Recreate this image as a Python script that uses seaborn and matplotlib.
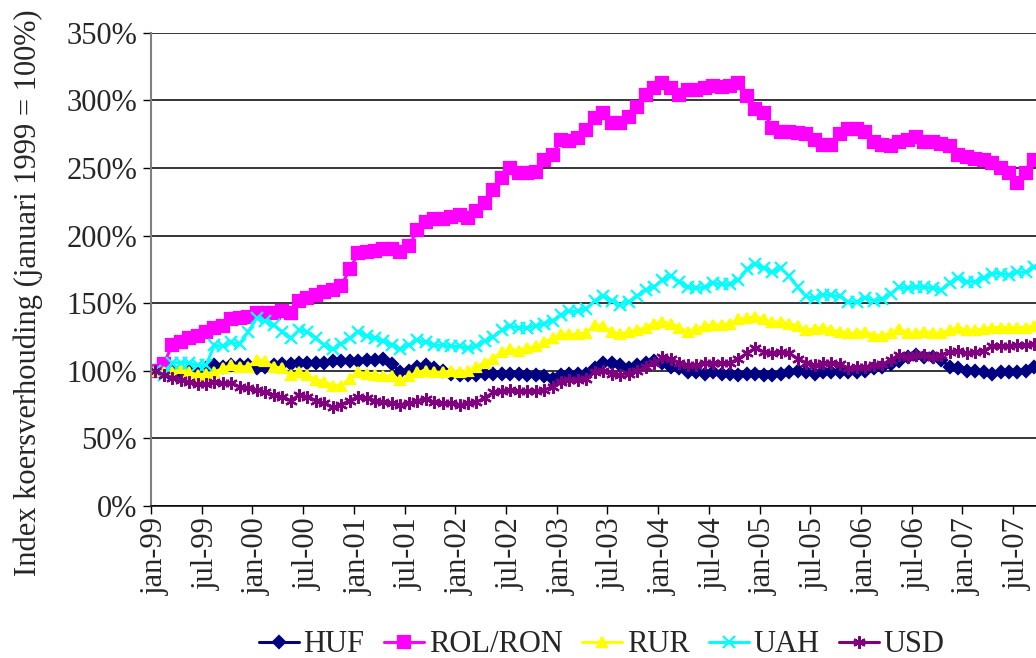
import numpy as np
import pandas as pd
import matplotlib
matplotlib.use("Agg")
import matplotlib.pyplot as plt
import seaborn as sns
from matplotlib.ticker import FixedLocator, FuncFormatter

# Index koersverhouding, januari 1999 = 100%, monthly from jan-99
huf = [100, 99, 99, 99, 100, 99, 102, 104, 103, 104,
       104, 104, 102, 103, 104, 105, 105, 106, 106, 106,
       106, 107, 107, 107, 107, 108, 108, 109, 105, 99,
       100, 103, 104, 102, 100, 98, 97, 97, 97, 98,
       98, 98, 98, 98, 97, 97, 96, 94, 97, 98,
       98, 98, 102, 106, 106, 104, 102, 104, 106, 107,
       106, 103, 102, 99, 99, 98, 99, 98, 98, 97,
       98, 98, 97, 97, 98, 99, 100, 99, 98, 99,
       99, 99, 99, 99, 100, 102, 103, 105, 107, 110,
       112, 110, 110, 108, 103, 102, 100, 100, 99, 98,
       99, 99, 99, 100, 103]
rol_ron = [100, 105, 119, 121, 124, 126, 129, 132, 133, 138,
           139, 140, 143, 143, 143, 144, 143, 152, 154, 156,
           158, 160, 163, 175, 187, 188, 189, 190, 190, 188,
           192, 204, 210, 212, 212, 214, 215, 213, 218, 224,
           234, 243, 250, 246, 246, 247, 256, 260, 271, 270,
           272, 278, 287, 291, 283, 283, 288, 295, 304, 309,
           313, 309, 304, 308, 308, 309, 311, 310, 311, 313,
           303, 294, 291, 280, 277, 277, 276, 275, 271, 267,
           267, 275, 279, 279, 277, 269, 267, 266, 269, 271,
           273, 269, 269, 268, 266, 260, 258, 257, 256, 254,
           250, 246, 239, 246, 256]
rur = [100, 99, 99, 102, 99, 97, 98, 99, 102, 104,
       103, 103, 108, 107, 103, 102, 97, 99, 97, 93,
       92, 89, 89, 94, 99, 98, 97, 96, 96, 93,
       96, 99, 100, 99, 99, 100, 99, 100, 103, 106,
       109, 114, 116, 115, 117, 118, 121, 124, 127, 127,
       127, 128, 134, 133, 129, 127, 129, 130, 132, 135,
       136, 135, 132, 129, 131, 133, 134, 134, 135, 138,
       139, 140, 138, 136, 136, 135, 133, 130, 131, 132,
       130, 129, 128, 128, 129, 126, 126, 128, 131, 128,
       128, 129, 128, 128, 130, 132, 130, 130, 131, 132,
       132, 132, 132, 132, 133]
uah = [100, 97, 106, 106, 106, 104, 104, 119, 118, 121,
       120, 129, 139, 137, 134, 129, 124, 130, 129, 124,
       119, 116, 120, 124, 129, 126, 124, 122, 119, 116,
       119, 123, 121, 119, 119, 118, 118, 117, 118, 122,
       125, 130, 133, 132, 132, 133, 135, 137, 141, 144,
       144, 146, 152, 155, 152, 149, 151, 155, 160, 162,
       167, 170, 166, 162, 161, 162, 165, 164, 164, 167,
       175, 179, 176, 173, 176, 170, 162, 155, 154, 156,
       156, 155, 151, 151, 154, 152, 153, 157, 162, 161,
       162, 162, 161, 160, 165, 169, 166, 166, 169, 172,
       172, 171, 173, 173, 177]
usd = [100, 97, 95, 93, 92, 90, 90, 92, 91, 91,
       88, 87, 86, 84, 82, 81, 78, 82, 81, 78,
       76, 73, 75, 78, 81, 80, 78, 77, 76, 75,
       76, 78, 79, 77, 76, 76, 75, 76, 77, 80,
       84, 85, 86, 85, 85, 85, 86, 88, 92, 93,
       93, 94, 99, 100, 98, 97, 98, 100, 103, 106,
       110, 109, 106, 104, 104, 106, 106, 106, 106, 109,
       113, 117, 114, 113, 114, 113, 109, 106, 104, 106,
       106, 105, 102, 103, 103, 104, 105, 108, 112, 110,
       112, 112, 110, 112, 114, 115, 113, 114, 115, 118,
       118, 118, 119, 119, 120]

tick_labels = ["jan-99", "jul-99", "jan-00", "jul-00", "jan-01", "jul-01",
               "jan-02", "jul-02", "jan-03", "jul-03", "jan-04", "jul-04",
               "jan-05", "jul-05", "jan-06", "jul-06", "jan-07", "jul-07"]

series = [
    ("HUF", huf, "#000080", "D", 6),
    ("ROL/RON", rol_ron, "#FF00FF", "s", 8),
    ("RUR", rur, "#FFFF00", "^", 7.5),
    ("UAH", uah, "#00FFFF", "x", 8),
    ("USD", usd, "#800080", (6, 2, 0), 9),
]

sns.set_theme(style="white")
plt.rcParams["font.family"] = ["Liberation Serif", "DejaVu Serif"]
FS = 22

fig = plt.figure(figsize=(10.36, 6.58), dpi=100)
ax = fig.add_axes([0.1458, 0.231, 0.8542, 0.719])

months = np.arange(len(huf))
for name, values, color, marker, msize in series:
    sns.lineplot(x=months, y=values, ax=ax, color=color, linewidth=2.2,
                 marker=marker, markersize=msize, markeredgecolor=color,
                 markerfacecolor=color, markeredgewidth=1.6, label=name,
                 legend=False, sort=False)

ax.set_xlim(-0.5, 104.2)
ax.set_ylim(0, 350)
ax.set_yticks(np.arange(0, 351, 50))
ax.yaxis.set_major_formatter(FuncFormatter(lambda v, _: f"{v:.0f}%"))
ax.yaxis.grid(True, color="#000000", linewidth=1.1)
ax.set_axisbelow(True)

tick_pos = np.arange(0, len(tick_labels) * 6, 6)
ax.set_xticks(tick_pos)
ax.set_xticklabels(tick_labels, rotation=90, ha="center", va="top")
ax.xaxis.set_minor_locator(FixedLocator(tick_pos - 0.5))
ax.tick_params(axis="x", which="major", length=0, pad=8, labelsize=FS)
ax.tick_params(axis="x", which="minor", length=6, width=1, color="#000000",
               direction="out", bottom=True)
ax.tick_params(axis="y", which="major", length=6, width=1, color="#000000",
               direction="out", left=True, labelsize=FS, pad=4)

for side in ["top", "right"]:
    ax.spines[side].set_visible(False)
ax.spines["left"].set_color("#808080")
ax.spines["left"].set_linewidth(1.5)
ax.spines["bottom"].set_color("#000000")
ax.spines["bottom"].set_linewidth(1.1)

ax.set_xlabel("")
ax.set_ylabel("Index koersverhouding (januari 1999 = 100%)", fontsize=FS)
ax.yaxis.set_label_coords(-0.122, 0.45)

handles, labels = ax.get_legend_handles_labels()
fig.legend(handles, labels, loc="center", bbox_to_anchor=(0.581, 0.02),
           ncol=5, frameon=False, fontsize=FS, handlelength=1.3,
           handletextpad=0.15, columnspacing=0.65, borderaxespad=0)

fig.savefig("out.png", dpi=100)
